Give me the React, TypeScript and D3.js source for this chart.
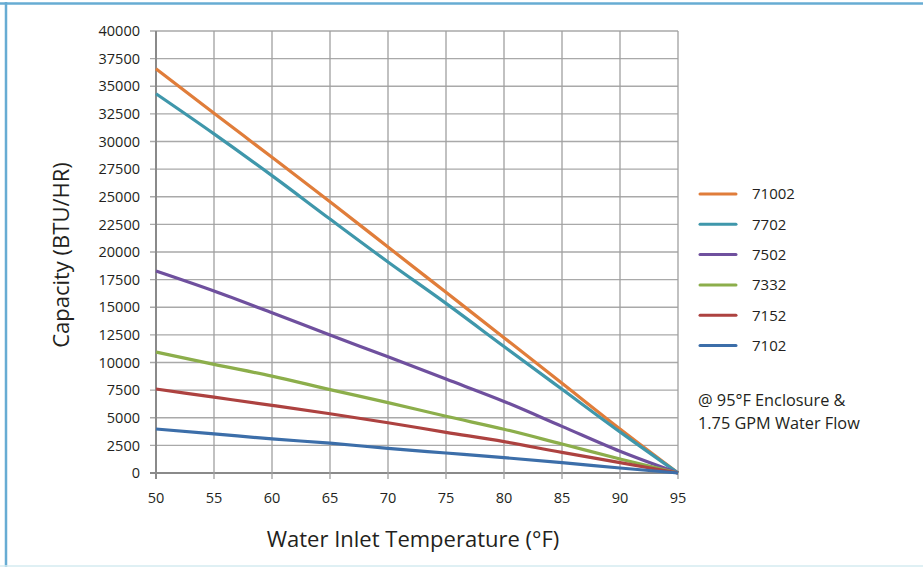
import React from "react";
import * as d3 from "d3";

const temps = [50, 55, 60, 65, 70, 75, 80, 85, 90, 95];
const s71002 = [36580, 32560, 28570, 24550, 20450, 16350, 12250, 8120, 3980, 0];
const s7702 = [34320, 30690, 26910, 22980, 19100, 15350, 11450, 7580, 3720, 0];
const s7502 = [18280, 16470, 14500, 12480, 10520, 8500, 6480, 4220, 1960, 0];
const s7332 = [10940, 9830, 8770, 7550, 6370, 5130, 3960, 2620, 1270, 0];
const s7152 = [7600, 6860, 6120, 5360, 4550, 3680, 2840, 1860, 940, 0];
const s7102 = [3980, 3540, 3080, 2700, 2230, 1810, 1390, 940, 450, 0];

const seriesNames = ["71002", "7702", "7502", "7332", "7152", "7102"];
const seriesValues = [s71002, s7702, s7502, s7332, s7152, s7102];
const seriesColors = ["#e07d3a", "#3f97ab", "#6f509e", "#8cae4b", "#ad4240", "#3c6ea9"];

const yTicks = d3.range(0, 40001, 2500);
const xTicks = temps;

const W = 923;
const H = 567;
const font = "'Open Sans', 'Noto Sans', sans-serif";

export default function App() {
  const x = d3.scaleLinear().domain([50, 95]).range([156, 678]);
  const y = d3.scaleLinear().domain([0, 40000]).range([473, 31]);
  const line = d3
    .line<[number, number]>()
    .x((d) => x(d[0]))
    .y((d) => y(d[1]))
    .curve(d3.curveMonotoneX);

  return (
    <svg
      width={W}
      height={H}
      style={{ position: "absolute", left: 0, top: 0, background: "#fff" }}
      fontFamily={font}
    >
      <rect x={0} y={0} width={W} height={H} fill="#fff" />
      {/* frame */}
      <line x1={0} x2={W} y1={3.5} y2={3.5} stroke="#67acd3" strokeWidth={2.5} />
      <line x1={6} x2={6} y1={2} y2={H} stroke="#67acd3" strokeWidth={2.5} />
      <line x1={0} x2={W} y1={566} y2={566} stroke="#d5ebf1" strokeWidth={1.5} />

      {/* grid */}
      {yTicks.map((t) => (
        <line key={"h" + t} x1={150} x2={678} y1={y(t)} y2={y(t)} stroke={t === 0 ? "#8a8a8a" : "#a9a9a9"} strokeWidth={t === 0 ? 2 : 1.3} />
      ))}
      {xTicks.map((t) => (
        <line key={"v" + t} x1={x(t)} x2={x(t)} y1={y(40000)} y2={y(0) + 6} stroke={t === 50 ? "#8a8a8a" : "#a0a0a0"} strokeWidth={t === 50 ? 2 : 1.3} />
      ))}

      {/* y tick labels */}
      {yTicks.map((t) => (
        <text key={"yl" + t} x={140} y={y(t)} dy="0.36em" textAnchor="end" fontSize={14.5} fill="#231f20">
          {t}
        </text>
      ))}
      {/* x tick labels */}
      {xTicks.map((t) => (
        <text key={"xl" + t} x={x(t)} y={503} textAnchor="middle" fontSize={14.5} fill="#231f20">
          {t}
        </text>
      ))}

      {/* series */}
      {seriesValues.map((vals, i) => (
        <path
          key={seriesNames[i]}
          d={line(temps.map((t, j) => [t, vals[j]] as [number, number])) || ""}
          fill="none"
          stroke={seriesColors[i]}
          strokeWidth={3.2}
          strokeLinejoin="round"
        />
      ))}

      {/* axis titles */}
      <text transform="translate(69,255) rotate(-90)" textAnchor="middle" fontSize={22} fill="#231f20">
        Capacity (BTU/HR)
      </text>
      <text x={413} y={547} textAnchor="middle" fontSize={22} fill="#231f20">
        Water Inlet Temperature (°F)
      </text>

      {/* legend */}
      {seriesNames.map((n, i) => {
        const ly = 194 + i * 30.3;
        return (
          <g key={"lg" + n}>
            <line x1={700} x2={736} y1={ly} y2={ly} stroke={seriesColors[i]} strokeWidth={3} strokeLinecap="round" />
            <text x={752} y={ly} dy="0.36em" fontSize={15} fill="#231f20">
              {n}
            </text>
          </g>
        );
      })}
      <text x={698} y={405.5} fontSize={16.3} fill="#231f20">
        @ 95°F Enclosure &amp;
      </text>
      <text x={698} y={428.5} fontSize={16.3} fill="#231f20">
        1.75 GPM Water Flow
      </text>
    </svg>
  );
}
